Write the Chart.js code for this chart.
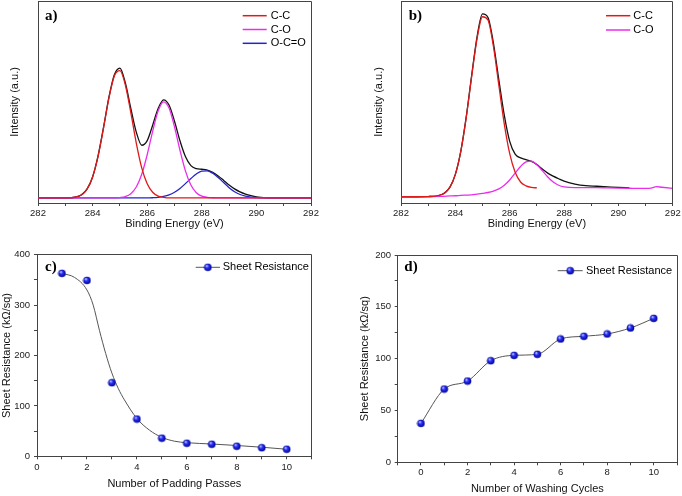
<!DOCTYPE html>
<html><head><meta charset="utf-8">
<script src="https://cdn.jsdelivr.net/npm/chart.js@4.4.1/dist/chart.umd.min.js"></script>
<style>
html,body{margin:0;padding:0;background:#fff;}
body{width:682px;height:496px;position:relative;overflow:hidden;}
canvas{position:absolute;}
</style></head><body>
<canvas id="ca" width="341" height="240" style="left:0;top:0;width:341px;height:240px"></canvas>
<canvas id="cb" width="341" height="240" style="left:341px;top:0;width:341px;height:240px"></canvas>
<canvas id="cc" width="341" height="256" style="left:0;top:240px;width:341px;height:256px"></canvas>
<canvas id="cd" width="341" height="256" style="left:341px;top:240px;width:341px;height:256px"></canvas>
<script>
// ---------- Panel a: XPS C1s (binding energy, eV) ----------
const energyA = [282, 283, 283.5, 283.8, 284, 284.2, 284.4, 284.6, 284.8, 285, 285.2, 285.4, 285.6, 285.8, 286, 286.2, 286.4, 286.6, 286.8, 287, 287.2, 287.4, 287.6, 287.8, 288, 288.2, 288.4, 288.6, 288.8, 289, 289.2, 289.4, 289.6, 289.8, 290, 290.4, 291, 292];
const ccA  = [2.5, 2.5, 3.4, 7.0, 12.9, 23.1, 37.1, 52.1, 63.0, 65.5, 58.4, 44.7, 29.7, 17.4, 9.5, 5.3, 3.4, 2.8, 2.5, 2.5, 2.5, 2.5, 2.5, 2.5, 2.5, 2.5, 2.5, 2.5, 2.5, 2.5, 2.5, 2.5, 2.5, 2.5, 2.5, 2.5, 2.5, 2.5];
const coA  = [2.5, 2.5, 2.5, 2.5, 2.5, 2.5, 2.5, 2.5, 2.5, 2.7, 3.2, 4.6, 7.9, 14.2, 23.9, 35.5, 45.5, 50.1, 47.0, 37.7, 26.1, 15.9, 8.9, 5.1, 3.4, 2.8, 2.6, 2.5, 2.5, 2.5, 2.5, 2.5, 2.5, 2.5, 2.5, 2.5, 2.5, 2.5];
const ocoA = [2.5, 2.5, 2.5, 2.5, 2.5, 2.5, 2.5, 2.5, 2.5, 2.5, 2.5, 2.5, 2.5, 2.5, 2.5, 2.6, 2.8, 3.25, 4.0, 5.3, 7.2, 9.6, 12.1, 14.4, 15.8, 15.9, 14.7, 12.6, 10.1, 7.6, 5.6, 4.2, 3.4, 2.9, 2.7, 2.5, 2.5, 2.5];
const envA = [2.5, 2.5, 3.4, 7.0, 12.9, 23.3, 37.4, 52.5, 63.6, 66.8, 59.4, 46.8, 35.1, 28.6, 30.9, 38.5, 46.8, 51.1, 48.5, 40.5, 30.8, 23.0, 18.5, 17.0, 16.7, 16.3, 15.2, 13.4, 11.2, 8.9, 7.0, 5.5, 4.4, 3.6, 3.0, 2.6, 2.5, 2.5];

// ---------- Panel b ----------
const energyB = [282, 283, 283.5, 283.8, 284, 284.2, 284.4, 284.6, 284.8, 285, 285.2, 285.4, 285.6, 285.8, 286, 286.2, 286.4, 286.6, 286.8, 287, 287.2, 287.4, 287.6, 287.8, 288, 288.4, 288.8, 289.2, 289.6, 290, 290.4, 290.8, 291.2, 291.4, 291.6, 292];
const ccB  = [3.1, 3.2, 4.2, 7.9, 14.2, 25.5, 42.3, 62.6, 81.5, 92.2, 90.6, 77.6, 58.3, 39.2, 24.4, 15.2, 10.4, 8.5, 7.7, 7.5];
const coB  = [3.1, 3.2, 3.3, 3.5, 3.6, 3.8, 3.9, 4.0, 4.4, 4.8, 5.2, 5.9, 7.0, 8.8, 11.4, 14.8, 18.1, 20.4, 20.7, 19.0, 16.0, 12.9, 10.4, 8.8, 8.0, 7.6, 7.6, 7.6, 7.5, 7.4, 7.3, 7.2, 7.4, 8.1, 7.8, 7.2];
const envB = [3.1, 3.2, 4.2, 7.9, 14.2, 25.6, 42.6, 63.2, 82.4, 93.6, 91.8, 79.2, 61.0, 43.5, 30.5, 24.2, 22.3, 21.5, 20.6, 19.0, 16.8, 14.8, 13.3, 12.0, 10.8, 9.4, 8.6, 8.3, 8.0, 7.7, 7.5];

// ---------- Panel c: padding passes ----------
const passes = [1, 2, 3, 4, 5, 6, 7, 8, 9, 10];
const resistC = [363, 349, 146, 74, 36, 26, 24, 20, 17, 14];
const fitPassesX = [1, 1.5, 2, 2.25, 2.5, 2.75, 3, 3.25, 3.5, 4, 4.5, 5, 5.5, 6, 7, 8, 9, 10];
const fitPassesY = [363, 355, 330, 300, 250, 204, 165, 135, 112, 75, 52, 37.6, 30, 27, 24.4, 21.4, 18, 14];

// ---------- Panel d: washing cycles ----------
const cycles = [0, 1, 2, 3, 4, 5, 6, 7, 8, 9, 10];
const resistD = [37.6, 70.7, 78.4, 98.0, 103.2, 104.2, 119.0, 121.6, 123.8, 129.6, 138.9];

const FONT = '"Liberation Sans", Arial, sans-serif';
Chart.defaults.font.family = FONT;
Chart.defaults.color = '#222';
const AX = '#444';
const RED = 'rgb(225,25,25)', MAG = 'rgb(235,45,235)', BLU = 'rgb(35,35,205)', BLK = '#111';

const pts = (xs, ys) => ys.map((y, i) => ({x: xs[i], y}));

function sphere(r) {
  const s = Math.ceil(r * 2) + 1;
  const c = document.createElement('canvas');
  c.width = c.height = s;
  const g = c.getContext('2d');
  const cx = s / 2, cy = s / 2;
  const gr = g.createRadialGradient(cx - r * 0.35, cy - r * 0.4, r * 0.1, cx, cy, r);
  gr.addColorStop(0, '#c8ccff');
  gr.addColorStop(0.35, '#2a35ff');
  gr.addColorStop(1, '#000090');
  g.fillStyle = gr;
  g.beginPath(); g.arc(cx, cy, r, 0, Math.PI * 2); g.fill();
  return c;
}
const ball = sphere(3.8);

const al = p => Math.round(p - 0.5) + 0.5;
const decor = {
  id: 'decor',
  afterDraw(chart, args, o) {
    const ctx = chart.ctx, a = chart.chartArea;
    ctx.save();
    ctx.strokeStyle = AX; ctx.lineWidth = 1;
    ctx.beginPath();
    ctx.moveTo(al(a.left), al(a.top)); ctx.lineTo(al(a.right), al(a.top)); ctx.lineTo(al(a.right), al(a.bottom));
    ctx.stroke();
    ctx.fillStyle = '#000';
    ctx.font = 'bold 15px "Liberation Serif", "Times New Roman", serif';
    ctx.textBaseline = 'alphabetic'; ctx.textAlign = 'left';
    ctx.fillText(o.tag, o.tagX, o.tagY);
    const L = o.legend;
    ctx.font = '11px ' + FONT; ctx.textBaseline = 'middle';
    let row = 0;
    chart.data.datasets.forEach(ds => {
      if (!ds.label) return;
      const y = L.y + row * L.dy;
      ctx.strokeStyle = ds.legendLine || ds.borderColor; ctx.lineWidth = ds.legendWidth || 1.5;
      ctx.beginPath(); ctx.moveTo(L.x0, y); ctx.lineTo(L.x1, y); ctx.stroke();
      if (ds.legendMarker) {
        const m = ds.legendMarker;
        ctx.drawImage(m, (L.x0 + L.x1) / 2 - m.width / 2, y - m.height / 2);
      }
      ctx.fillStyle = '#000';
      ctx.fillText(ds.label, L.tx, y);
      row++;
    });
    ctx.restore();
  }
};

function xAxis(c) {
  return {
    type: 'linear', min: c.min, max: c.max,
    afterFit: s => { s.height = c.height; },
    ticks: { stepSize: 1, autoSkip: false, maxRotation: 0, padding: c.tickPad, font: {size: 9.5}, color: '#222',
      callback: v => (v % c.every === 0 && v >= c.lo && v <= c.hi) ? String(v) : '' },
    grid: { display: true, drawOnChartArea: false, drawTicks: true, tickLength: 3, tickColor: AX, color: AX },
    border: { display: true, color: AX, width: 1 },
    title: { display: true, text: c.title, font: {size: 11}, color: '#111', padding: {top: 0, bottom: c.titlePad} }
  };
}

function mkChart(id, datasets, scales, padding, decorOpts) {
  return new Chart(document.getElementById(id), {
    type: 'line',
    data: { datasets },
    options: {
      responsive: false, animation: false, devicePixelRatio: 1,
      layout: { padding },
      plugins: { legend: {display: false}, tooltip: {enabled: false}, decor: decorOpts },
      scales
    },
    plugins: [decor]
  });
}

const lineDs = (label, xs, ys, color) => ({
  label, data: pts(xs, ys), borderColor: color, borderWidth: 1.3, pointRadius: 0,
  cubicInterpolationMode: 'monotone', fill: false
});

// Panel a
mkChart('ca', [
  lineDs('C-C', energyA, ccA, RED),
  lineDs('C-O', energyA, coA, MAG),
  lineDs('O-C=O', energyA, ocoA, BLU),
  lineDs('', energyA, envA, BLK)
], {
  x: xAxis({min: 282, max: 292, every: 2, lo: 282, hi: 292, height: 37, tickPad: 1.3, title: 'Binding Energy (eV)', titlePad: 9.4}),
  y: { type: 'linear', min: 0, max: 100, afterFit: s => { s.width = 38; },
    ticks: {display: false}, grid: {display: false}, border: {display: true, color: AX},
    title: {display: true, text: 'Intensity (a.u.)', font: {size: 11}, color: '#111', padding: {top: 8.4, bottom: 0}} }
}, {top: 1, right: 30, left: 0, bottom: 0},
{tag: 'a)', tagX: 45, tagY: 20, legend: {x0: 242.7, x1: 266.7, tx: 270.7, y: 15.7, dy: 13.8}});

// Panel b
mkChart('cb', [
  lineDs('C-C', energyB, ccB, RED),
  lineDs('C-O', energyB, coB, MAG),
  lineDs('', energyB, envB, BLK)
], {
  x: xAxis({min: 282, max: 292, every: 2, lo: 282, hi: 292, height: 37, tickPad: 1.3, title: 'Binding Energy (eV)', titlePad: 9.4}),
  y: { type: 'linear', min: 0, max: 100, afterFit: s => { s.width = 60; },
    ticks: {display: false}, grid: {display: false}, border: {display: true, color: AX},
    title: {display: true, text: 'Intensity (a.u.)', font: {size: 11}, color: '#111', padding: {top: 31.7, bottom: 0}} }
}, {top: 1, right: 7.5, left: 0, bottom: 0},
{tag: 'b)', tagX: 67.7, tagY: 20, legend: {x0: 265, x1: 289.3, tx: 292.3, y: 15.7, dy: 14.3}});

// Panel c
mkChart('cc', [
  { label: 'Sheet Resistance', data: pts(passes, resistC), showLine: false, pointStyle: ball, pointRadius: 4,
    borderColor: '#555', legendLine: '#555', legendWidth: 1, legendMarker: ball },
  { label: '', data: pts(fitPassesX, fitPassesY), borderColor: '#555', borderWidth: 1, pointRadius: 0,
    cubicInterpolationMode: 'monotone' }
], {
  x: xAxis({min: 0, max: 11, every: 2, lo: 0, hi: 10, height: 39.7, tickPad: 2.7, title: 'Number of Padding Passes', titlePad: 5.4}),
  y: { type: 'linear', min: 0, max: 400, afterFit: s => { s.width = 37; },
    ticks: {stepSize: 50, autoSkip: false, padding: 4, font: {size: 9.5}, color: '#222', callback: v => v % 100 === 0 ? String(v) : ''},
    grid: {display: true, drawOnChartArea: false, tickLength: 3, tickColor: AX, color: AX},
    border: {display: true, color: AX},
    title: {display: true, text: 'Sheet Resistance (kΩ/sq)', font: {size: 11}, color: '#111', padding: {top: 0, bottom: 0}} }
}, {top: 14.7, right: 29.3, left: 0, bottom: 0},
{tag: 'c)', tagX: 45, tagY: 31, legend: {x0: 195.7, x1: 220, tx: 222.7, y: 27.3, dy: 14}});

// Panel d
mkChart('cd', [
  { label: 'Sheet Resistance', data: pts(cycles, resistD), borderColor: '#555', borderWidth: 1, pointStyle: ball, pointRadius: 4,
    cubicInterpolationMode: 'monotone', legendLine: '#555', legendWidth: 1, legendMarker: ball }
], {
  x: xAxis({min: -1, max: 11, every: 2, lo: 0, hi: 10, height: 33.7, tickPad: 1.3, title: 'Number of Washing Cycles', titlePad: 0.4}),
  y: { type: 'linear', min: 0, max: 200, afterFit: s => { s.width = 56.7; },
    ticks: {stepSize: 25, autoSkip: false, padding: 3.7, font: {size: 9.5}, color: '#222', callback: v => v % 50 === 0 ? String(v) : ''},
    grid: {display: true, drawOnChartArea: false, tickLength: 3, tickColor: AX, color: AX},
    border: {display: true, color: AX},
    title: {display: true, text: 'Sheet Resistance (kΩ/sq)', font: {size: 11}, color: '#111', padding: {top: 16.9, bottom: 0}} }
}, {top: 15, right: 4.3, left: 0, bottom: 0},
{tag: 'd)', tagX: 63.3, tagY: 30.7, legend: {x0: 216.7, x1: 241.7, tx: 245, y: 30.7, dy: 14}});
</script>
</body></html>
